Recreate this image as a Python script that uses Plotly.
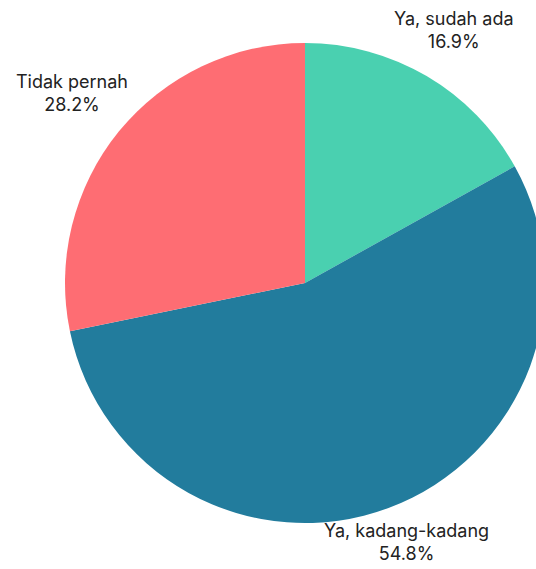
import math
import plotly.graph_objects as go

labels = ["Ya, sudah ada", "Ya, kadang-kadang", "Tidak pernah"]
values = [16.9, 54.8, 28.2]
colors = ["#4AD0B0", "#227C9D", "#FE6D73"]

W, H = 610, 569
VIEW_W = 536
dom_y = [46 / H, 526 / H]

fig = go.Figure(
    go.Pie(
        labels=labels,
        values=values,
        sort=False,
        direction="clockwise",
        rotation=0,
        marker=dict(colors=colors, line=dict(width=0)),
        textinfo="none",
        showlegend=False,
        hoverinfo="skip",
        domain=dict(x=[0, 1], y=dom_y),
    )
)

# Outside labels: each text box sits just beyond the rim along its slice's
# mid-angle direction, then is clamped to stay inside the visible canvas.
cx_px = W / 2
cy_px = H * (1 - (dom_y[0] + dom_y[1]) / 2)  # from top
radius = H * (dom_y[1] - dom_y[0]) / 2
font_size = 18
gap = 2
total = sum(values)
cum = 0.0
for lab, val in zip(labels, values):
    mid = (cum + val / 2) / total * 2 * math.pi
    cum += val
    vx, vy = math.sin(mid), -math.cos(mid)  # screen coords, y down
    half_w = (8.8 * len(lab) + 4) / 2
    half_h = 25
    dist = radius + gap + abs(vx) * half_w + abs(vy) * half_h
    px = cx_px + vx * dist
    py = cy_px + vy * dist
    px = min(max(px, half_w), VIEW_W - half_w)
    py = min(max(py, half_h), H - half_h - 2)
    fig.add_annotation(
        x=px / W,
        y=1 - py / H,
        xref="paper",
        yref="paper",
        text=f"{lab}<br>{val:.1f}%",
        showarrow=False,
        xanchor="center",
        yanchor="middle",
        align="center",
        font=dict(family="Inter, Roboto, sans-serif", size=font_size, color="#222222"),
    )

fig.update_layout(
    width=W,
    height=H,
    margin=dict(l=0, r=0, t=0, b=0),
    paper_bgcolor="white",
    plot_bgcolor="white",
)

fig.write_html(
    "out.html",
    post_script="document.documentElement.style.overflow='hidden';document.body.style.overflow='hidden';",
)
